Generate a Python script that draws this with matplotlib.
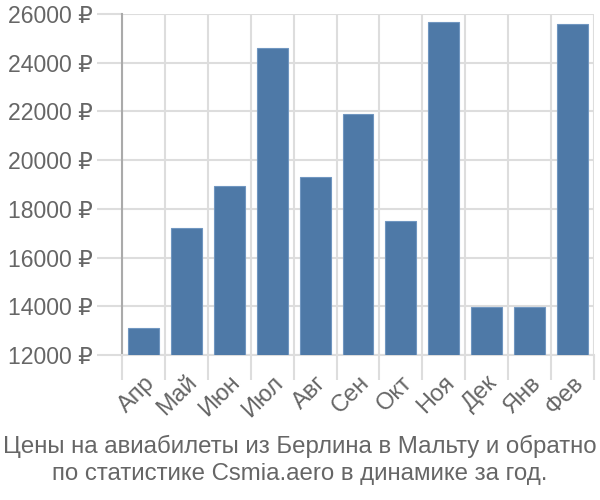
import matplotlib
matplotlib.use("Agg")
import matplotlib.pyplot as plt
import numpy as np

months = ["Апр", "Май", "Июн", "Июл", "Авг", "Сен", "Окт", "Ноя", "Дек", "Янв", "Фев"]
prices = [13110, 17220, 18940, 24620, 19320, 21900, 17510, 25660, 13970, 13970, 25580]
yticks = [12000, 14000, 16000, 18000, 20000, 22000, 24000, 26000]
title = "Цены на авиабилеты из Берлина в Мальту и обратно\nпо статистике Csmia.aero в динамике за год."

plt.rcParams['font.family'] = ['Liberation Sans', 'DejaVu Sans']
txt = "#666666"
grid = "#dddddd"

fig = plt.figure(figsize=(6, 5), dpi=100)
ax = fig.add_axes([122/600, 1-355/500, (594-122)/600, (355-14)/500])

x = np.arange(len(months))
ax.bar(x, prices, width=0.72, bottom=0, color="#4e79a7", edgecolor="#7096c0", linewidth=0.8, zorder=3)
ax.set_xlim(-0.5, len(months)-0.5)
ax.set_ylim(12000, 26000)

ax.set_yticks(yticks)
ax.set_yticklabels([f"{v} ₽" for v in yticks], fontsize=16.6, color=txt)
ax.tick_params(axis='y', length=18, color=grid, width=1.5, pad=3)

ax.set_xticks(x)
ax.set_xticklabels(months, fontsize=17, color=txt, rotation=45, ha='right', rotation_mode='anchor')
ax.set_xticks(np.arange(len(months)+1)-0.5, minor=True)
ax.tick_params(axis='x', which='major', length=0, pad=12)
ax.tick_params(axis='x', which='minor', length=18, color=grid, width=1.5)

ax.grid(True, axis='y', color=grid, linewidth=1.5, zorder=0)
ax.grid(True, axis='x', which='minor', color=grid, linewidth=1.5, zorder=0)
ax.grid(False, axis='x', which='major')

for s in ['top', 'right']:
    ax.spines[s].set_visible(False)
ax.spines['bottom'].set_color(grid)
ax.spines['bottom'].set_linewidth(1.5)
ax.spines['left'].set_color("#aaaaaa")
ax.spines['left'].set_linewidth(1.5)
ax.spines['left'].set_bounds(12000, 26000)

fig.text(0.5, 1-460/500, title, ha='center', va='center', fontsize=17.3, color=txt, linespacing=1.28)

fig.savefig("out.png")
